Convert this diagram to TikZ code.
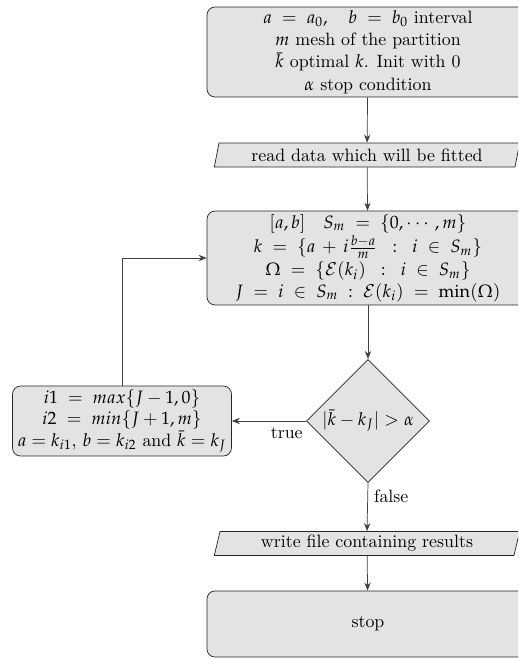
\documentclass[tikz,border=0pt]{standalone}
\usepackage{amssymb}
\usepackage{amsmath}
\usepackage{mathpazo}
\usepackage{tikz}
\usetikzlibrary{shapes.geometric,arrows.meta}

\begin{document}
\begin{tikzpicture}
[x=0.56pt, y=-0.56pt,
 block/.style={draw=black!85, fill=gray!22, rounded corners=4.5pt, align=center, minimum width=180.3pt},
 io/.style={draw=black!85, fill=gray!22, trapezium, trapezium left angle=74, trapezium right angle=106, trapezium stretches body, minimum width=171pt, minimum height=13.4pt, inner sep=1pt},
 test/.style={draw=black!85, fill=gray!22, diamond, aspect=1, minimum width=69pt, minimum height=69pt, inner sep=0pt},
 flow/.style={draw=black!75, -{Stealth[length=4.5pt,width=3.5pt]}}]
\useasboundingbox (0,0) rectangle (518,659);
\clip (0,0) rectangle (518,659);
% boxes
\node[block, minimum height=50.4pt, inner sep=1pt] (init) at (368,52) {$a \;=\; a_0, \quad b \;=\; b_0$ interval\\[0.5pt] $m$ mesh of the partition\\[0.5pt] $\bar{k}$ optimal $k$. Init with 0\\[0.5pt] $\alpha$ stop condition};
\node[io] (read) at (367,155) {read data which will be fitted};
\node[block, minimum height=52.6pt, inner sep=1pt] (part) at (368,258) {$[a,b] \quad S_m \;=\; \{0,\cdots,m\}$\\[0.5pt] $k \;=\; \{a \,+\, i\frac{b-a}{m} \;\;:\;\; i \;\in\; S_m\}$\\[1pt] $\Omega \;=\; \{\mathcal{E}(k_i) \;\;:\;\; i \;\in\; S_m\}$\\ $J \;=\; i \;\in\; S_m \;:\; \mathcal{E}(k_i) \;=\; \min(\Omega)$};
\node[test] (stopif) at (368,421) {$|\bar{k}-k_J|>\alpha$};
\node[block, minimum width=122.6pt, minimum height=39.2pt, inner sep=1pt] (update) at (122,421) {$i1 \;=\; max\{J-1,0\}$\\ $i2 \;=\; min\{J+1,m\}$\\ $a=k_{i1}$, $b=k_{i2}$ and $\bar{k}=k_J$};
\node[io] (write) at (367,543.5) {write file containing results};
\node[block, minimum height=37pt] (stop) at (368,624) {stop};
% connectors
\draw[flow] (init) -- (read);
\draw[flow] (read) -- (part);
\draw[flow] (part) -- (stopif);
\draw[flow] (stopif.west) -- node[below, pos=0.26]{true} (update.east);
\draw[flow] (update.north) |- (part.west);
\draw[flow] (stopif.south) -- node[right, pos=0.28]{false} (write.north);
\draw[flow] (write) -- (stop);
\end{tikzpicture}
\end{document}
